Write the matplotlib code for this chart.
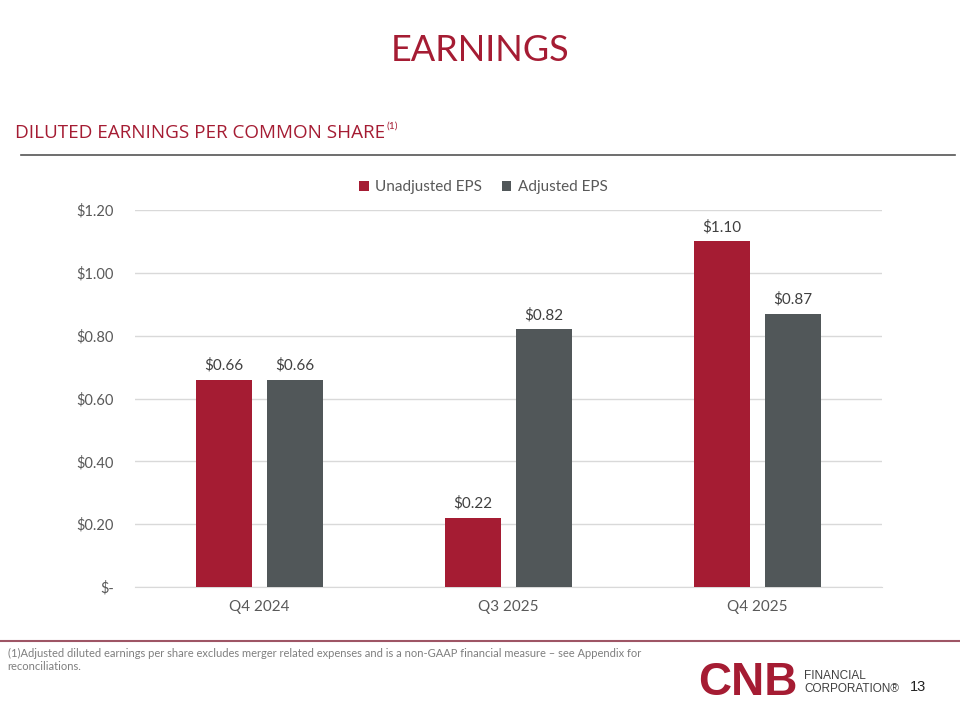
import matplotlib.pyplot as plt
from matplotlib.text import Annotation
import numpy as np

quarters = ["Q4 2024", "Q3 2025", "Q4 2025"]
unadjusted = [0.66, 0.22, 1.10]
adjusted = [0.66, 0.82, 0.87]
y_ticks = [0.0, 0.2, 0.4, 0.6, 0.8, 1.0, 1.2]
y_labels = ["$-", "$0.20", "$0.40", "$0.60", "$0.80", "$1.00", "$1.20"]

RED = "#A51C33"
GREY = "#515759"
TXT = "#595959"

plt.rcParams["font.family"] = ["Lato", "DejaVu Sans"]

fig = plt.figure(figsize=(9.6, 7.2), dpi=100)

# title block
fig.text(0.5, 0.93, "EARNINGS", color=RED, fontsize=26, ha="center", va="center")
sub = fig.text(0.016, 0.815, "DILUTED EARNINGS PER COMMON SHARE", color=RED, fontsize=13.6,
               ha="left", va="center", fontfamily=["Open Sans", "DejaVu Sans"])
sup = Annotation("(1)", xy=(1, 1), xycoords=sub, xytext=(1, 2), textcoords="offset points",
                 color=RED, fontsize=7.5, ha="left", va="top", annotation_clip=False)
fig.add_artist(sup)
fig.add_artist(plt.Line2D([0.022, 0.995], [0.785, 0.785], color="#555555", lw=1.2))

ax = fig.add_axes([0.1406, 0.1847, 0.778, 0.5236])
x = np.arange(len(quarters))
w = 0.225
off = 0.143
b1 = ax.bar(x - off, unadjusted, w, color=RED, label="Unadjusted EPS", zorder=3)
b2 = ax.bar(x + off, adjusted, w, color=GREY, label="Adjusted EPS", zorder=3)

for bars in (b1, b2):
    for b in bars:
        ax.text(b.get_x() + b.get_width() / 2, b.get_height() + 0.022,
                "${:.2f}".format(b.get_height()), ha="center", va="bottom",
                fontsize=11, color="#404040")

ax.set_xlim(-0.5, 2.5)
ax.set_ylim(0, 1.2)
ax.set_yticks(y_ticks)
ax.set_yticklabels(y_labels)
ax.set_xticks(x)
ax.set_xticklabels(quarters)
ax.tick_params(axis="both", length=0, colors=TXT)
ax.tick_params(axis="y", pad=15, labelsize=10.5)
ax.tick_params(axis="x", pad=9, labelsize=11)
ax.yaxis.grid(True, color="#D9D9D9", lw=1, zorder=0)
for s in ["top", "right", "left"]:
    ax.spines[s].set_visible(False)
ax.spines["bottom"].set_color("#D9D9D9")

ax.legend(loc="lower center", bbox_to_anchor=(0.466, 1.005), ncol=2, frameon=False,
          fontsize=11, handlelength=0.65, handleheight=0.65, handletextpad=0.4,
          columnspacing=1.3, labelcolor=TXT)

# footer
fig.add_artist(plt.Line2D([0, 1], [0.11, 0.11], color="#9E5565", lw=1.5))
fig.text(0.008, 0.083, "(1)Adjusted diluted earnings per share excludes merger related expenses and is a non-GAAP financial measure \u2013 see Appendix for\nreconciliations.",
         fontsize=8, color="#7F7F7F", ha="left", va="center", linespacing=1.25)
fig.text(0.727, 0.052, "CNB", color=RED, fontsize=33, fontweight="heavy", ha="left",
         va="center", fontfamily=["Liberation Sans", "DejaVu Sans"])
fig.text(0.838, 0.052, "FINANCIAL\nCORPORATION\u00ae", color="#404040", fontsize=8.5,
         ha="left", va="center", linespacing=1.05,
         fontfamily=["Liberation Sans Narrow", "Liberation Sans", "DejaVu Sans"])
fig.text(0.948, 0.046, "13", color="#222222", fontsize=10.5, ha="left", va="center",
         fontfamily=["Liberation Sans", "DejaVu Sans"])

fig.savefig("out.png", dpi=100)
